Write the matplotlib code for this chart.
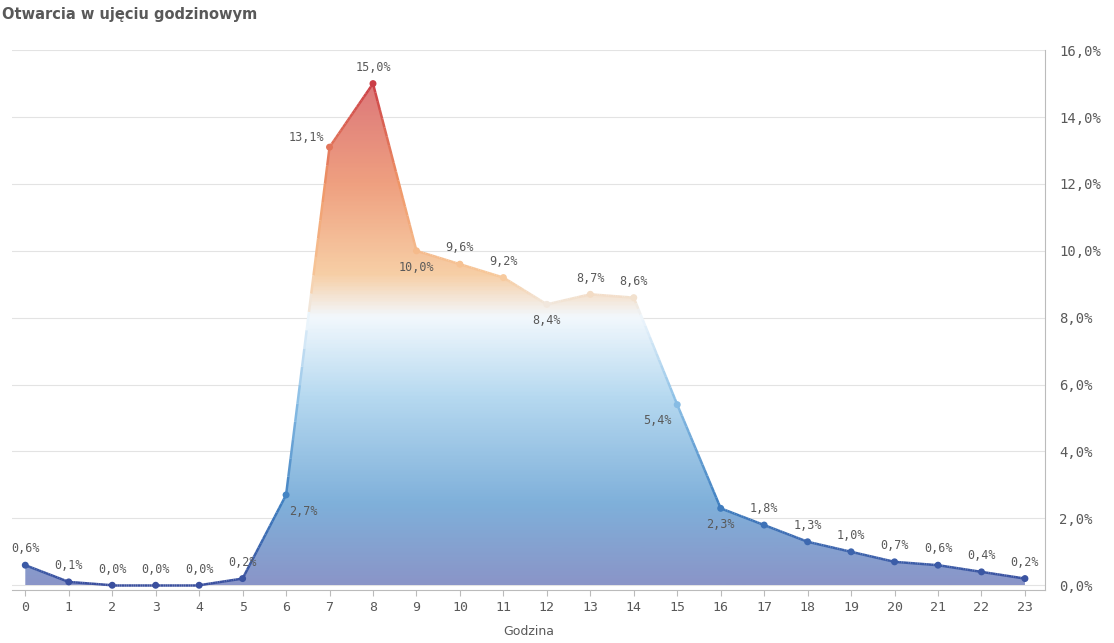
import numpy as np
import matplotlib
matplotlib.use('Agg')
import matplotlib.pyplot as plt
from matplotlib.colors import LinearSegmentedColormap
from matplotlib.collections import LineCollection
from matplotlib.patches import Polygon

hours = list(range(24))
share = [0.6, 0.1, 0.0, 0.0, 0.0, 0.2, 2.7, 13.1, 15.0, 10.0, 9.6, 9.2,
         8.4, 8.7, 8.6, 5.4, 2.3, 1.8, 1.3, 1.0, 0.7, 0.6, 0.4, 0.2]
yticks = [0, 2, 4, 6, 8, 10, 12, 14, 16]

# where each value label sits: 'a' above, 'b' below, 'bl' below-left, 'br' below-right, 'al' above-left
label_pos = ['a', 'a', 'a', 'a', 'a', 'a', 'br', 'al', 'a', 'b', 'a', 'a',
             'b', 'a', 'a', 'bl', 'b', 'a', 'a', 'a', 'a', 'a', 'a', 'a']

cmap = LinearSegmentedColormap.from_list('qs', [
    (0.0, '#3a4f9e'), (0.15, '#3f7fc0'), (0.35, '#8cc0e6'), (0.5, '#eef6fc'),
    (0.58, '#f7c89a'), (0.75, '#ef9566'), (1.0, '#c0233c')])
fill_cmap = LinearSegmentedColormap.from_list('qsf', [
    (0.0, '#8a95c8'), (0.15, '#7fb0da'), (0.35, '#b6d9f0'), (0.5, '#f2f8fd'),
    (0.58, '#f7cfa6'), (0.75, '#efa080'), (1.0, '#d66a78')])

fig = plt.figure(figsize=(11.14, 6.43), dpi=100)
ax = fig.add_axes([0.011, 0.082, 0.927, 0.84])
ax.set_axisbelow(True)
ax.set_xlim(-0.3, 23.46)
ax.set_ylim(-0.15, 16.0)

# gradient fill under the curve
grad = np.linspace(0, 16, 400).reshape(-1, 1)
im = ax.imshow(grad, extent=[-0.3, 23.46, 0, 16], origin='lower', aspect='auto',
               cmap=fill_cmap, vmin=0, vmax=16, zorder=1)
poly = Polygon(list(zip(hours, share)) + [(23, 0), (0, 0)], closed=True,
               transform=ax.transData, facecolor='none', edgecolor='none')
ax.add_patch(poly)
im.set_clip_path(poly)

# line colored by value
xs = np.array(hours, dtype=float)
ys = np.array(share)
fx, fy = [], []
for i in range(len(xs) - 1):
    t = np.linspace(0, 1, 20)
    fx.extend(xs[i] + t * (xs[i + 1] - xs[i]))
    fy.extend(ys[i] + t * (ys[i + 1] - ys[i]))
fx, fy = np.array(fx), np.array(fy)
segs = np.stack([np.column_stack([fx[:-1], fy[:-1]]), np.column_stack([fx[1:], fy[1:]])], axis=1)
lc = LineCollection(segs, cmap=cmap, norm=plt.Normalize(0, 16), linewidth=1.8, zorder=3)
lc.set_array((fy[:-1] + fy[1:]) / 2)
ax.add_collection(lc)
ax.scatter(xs, ys, c=ys, cmap=cmap, vmin=0, vmax=16, s=16, zorder=4)

offsets = {'a': (0, 7, 'center', 'bottom'), 'b': (0, -7, 'center', 'top'),
           'bl': (-4, -7, 'right', 'top'), 'br': (2, -7, 'left', 'top'),
           'al': (-4, 2, 'right', 'bottom')}
for h, v, p in zip(hours, share, label_pos):
    dx, dy, ha, va = offsets[p]
    ax.annotate(f'{v:.1f}%'.replace('.', ','), (h, v), xytext=(dx, dy),
                textcoords='offset points', ha=ha, va=va, fontsize=8.5,
                family='DejaVu Sans Mono', color='#595959', zorder=5)

ax.yaxis.tick_right()
ax.set_yticks(yticks)
ax.set_yticklabels([f'{t:.1f}%'.replace('.', ',') for t in yticks],
                   family='DejaVu Sans Mono', fontsize=10, color='#595959')
ax.set_xticks(hours)
ax.set_xticklabels([str(h) for h in hours], family='DejaVu Sans Mono',
                   fontsize=9.5, color='#595959')
ax.grid(axis='y', color='#e3e3e3', linewidth=0.8)
ax.tick_params(axis='y', length=0, pad=10)
ax.tick_params(axis='x', length=4, color='#bbbbbb')
for s in ['top', 'left']:
    ax.spines[s].set_visible(False)
ax.spines['right'].set_color('#bbbbbb')
ax.spines['bottom'].set_color('#bbbbbb')
ax.set_xlabel('Godzina', fontsize=9, color='#595959', labelpad=8)

fig.text(0.002, 0.978, 'Otwarcia w ujęciu godzinowym', fontsize=10.5,
         fontweight='bold', color='#595959', va='center', ha='left')

fig.savefig('out.png', dpi=100)
